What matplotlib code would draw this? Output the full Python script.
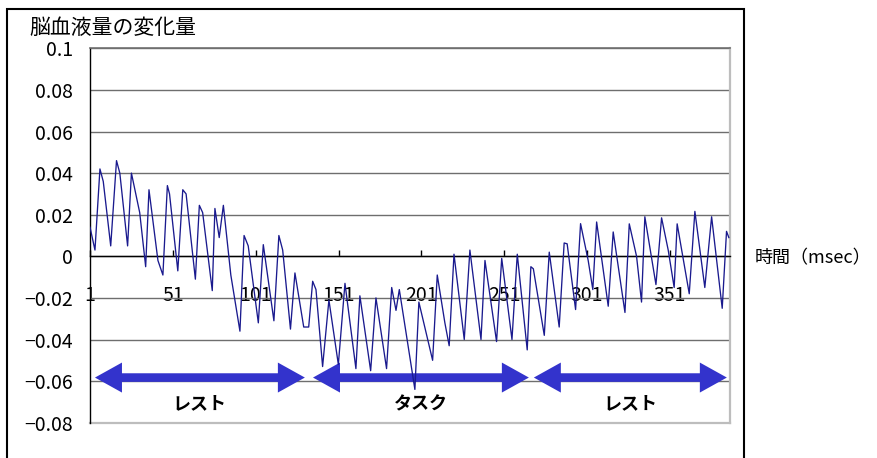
import matplotlib
matplotlib.use('Agg')
import matplotlib.pyplot as plt
from matplotlib.patches import Polygon, Rectangle
from matplotlib.transforms import IdentityTransform

plt.rcParams['font.family'] = ['Noto Sans CJK JP', 'DejaVu Sans']

# ---- data (vertices of the trace) ----
sample = [1, 4, 7, 9, 13.5, 17, 19, 23.7, 26, 31,
          34.6, 36.6, 42, 45, 47.7, 49, 54, 57, 59, 64.6,
          67, 69, 74.8, 76.4, 79, 81.5, 86, 91.5, 94, 96.5,
          102.6, 105.6, 112, 115, 117.3, 122, 124.7, 130, 133, 135.4,
          137.4, 141.4, 145.2, 150.9, 154.9, 161.5, 163.9, 170.4, 173.6, 180,
          183.1, 185.7, 187.7, 197.1, 199.5, 207.8, 210.6, 215.2, 217.8, 220.7,
          226.9, 230.3, 237, 239.4, 246.4, 249.5, 255.7, 258.9, 264.9, 267.1,
          268.6, 275.2, 278.2, 284.2, 287.2, 289, 294.1, 297.1, 301.7, 304.5,
          306.8, 313.8, 316.8, 323.9, 326.5, 330.9, 333.9, 335.9, 342.6, 346,
          350, 353.6, 355.4, 362.7, 366.1, 372.1, 376.2, 382.6, 385.2, 386.6]
blood_change = [0.014, 0.003, 0.042, 0.036, 0.005, 0.046, 0.040, 0.005, 0.040, 0.021,
                -0.005, 0.032, -0.002, -0.009, 0.034, 0.030, -0.007, 0.032, 0.030, -0.011,
                0.0245, 0.021, -0.0165, 0.023, 0.009, 0.0245, -0.009, -0.036, 0.010, 0.005,
                -0.032, 0.0056, -0.031, 0.010, 0.003, -0.035, -0.008, -0.034, -0.034, -0.012,
                -0.016, -0.053, -0.021, -0.052, -0.013, -0.054, -0.019, -0.055, -0.020, -0.054,
                -0.015, -0.026, -0.016, -0.064, -0.022, -0.050, -0.009, -0.032, -0.043, 0.001,
                -0.040, 0.003, -0.040, -0.002, -0.041, -0.001, -0.040, 0.001, -0.045, -0.005,
                -0.006, -0.038, 0.002, -0.034, 0.0064, 0.006, -0.0256, 0.0157, -0.002, -0.016,
                0.0165, -0.024, 0.0117, -0.027, 0.0156, 0.000, -0.022, 0.019, -0.0136, 0.0185,
                0.003, -0.015, 0.0156, -0.018, 0.0216, -0.015, 0.019, -0.025, 0.012, 0.009]

x_ticks = [1, 51, 101, 151, 201, 251, 301, 351]
x_tick_labels = ['1', '51', '101', '151', '201', '251', '301', '351']
y_ticks = [-0.08, -0.06, -0.04, -0.02, 0, 0.02, 0.04, 0.06, 0.08, 0.1]
y_tick_labels = ['\u22120.08', '\u22120.06', '\u22120.04', '\u22120.02', '0',
                 '0.02', '0.04', '0.06', '0.08', '0.1']

phase_names = ['レスト', 'タスク', 'レスト']
phase_start = [4, 135.6, 268.9]
phase_end = [130.7, 265.9, 385.4]

y_title = '脳血液量の変化量'
x_title = '時間（msec）'

# ---- figure ----
W, H = 877, 458
fig = plt.figure(figsize=(W / 100, H / 100), dpi=100)
ax = fig.add_axes([90 / W, 35.3 / H, 640 / W, 374.4 / H])
ax.set_xlim(1, 387.3)
ax.set_ylim(-0.08, 0.1)

ax.yaxis.grid(True, color='#6e6e6e', lw=1.0, zorder=0)
ax.set_axisbelow(True)

ax.set_yticks(y_ticks)
ax.set_yticklabels(y_tick_labels, fontsize=14)
ax.tick_params(axis='y', length=0, pad=12)

ax.spines['bottom'].set_position(('data', 0))
ax.spines['bottom'].set_color('black')
ax.spines['bottom'].set_linewidth(1.0)
ax.spines['bottom'].set_zorder(2.5)
ax.spines['left'].set_color('black')
ax.spines['left'].set_linewidth(1.0)
ax.spines['top'].set_color('#707070')
ax.spines['top'].set_linewidth(1.2)
ax.spines['right'].set_color('#bdbdbd')
ax.spines['right'].set_linewidth(1.6)
ax.axhline(-0.08, color='#bdbdbd', lw=1.6, clip_on=False, zorder=2)

ax.set_xticks(x_ticks)
ax.set_xticklabels(x_tick_labels, fontsize=14)
ax.tick_params(axis='x', direction='in', length=4, width=1, pad=21)

# trace
ax.plot(sample, blood_change, color='#1a1a8e', lw=0.95, zorder=4)

# phase arrows
arrow_y = -0.0583
label_y = -0.0709
shaft_half, head_half, head_len = 4.3, 15, 27
for name, s, e in zip(phase_names, phase_start, phase_end):
    (x0, y0) = ax.transData.transform((s, arrow_y))
    (x1, _) = ax.transData.transform((e, arrow_y))
    pts = [(x0, y0), (x0 + head_len, y0 + head_half), (x0 + head_len, y0 + shaft_half),
           (x1 - head_len, y0 + shaft_half), (x1 - head_len, y0 + head_half), (x1, y0),
           (x1 - head_len, y0 - head_half), (x1 - head_len, y0 - shaft_half),
           (x0 + head_len, y0 - shaft_half), (x0 + head_len, y0 - head_half)]
    poly = Polygon(pts, closed=True, transform=IdentityTransform(),
                   facecolor='#3333cc', edgecolor='none', zorder=3, clip_on=False)
    ax.add_patch(poly)
    ax.text((s + e) / 2, label_y, name, ha='center', va='center',
            fontsize=13, fontweight='bold', zorder=5)

# titles
fig.text(29 / W, 1 - 28 / H, y_title, ha='left', va='center', fontsize=15)
fig.text(755 / W, 1 - 258 / H, x_title, ha='left', va='center', fontsize=13)

# outer chart frame
fig.add_artist(Rectangle((7 / W, -0.1), 737 / W, (H - 9) / H + 0.1,
                         transform=fig.transFigure, fill=False,
                         edgecolor='black', lw=1.5))

fig.savefig('out.png', dpi=100)
